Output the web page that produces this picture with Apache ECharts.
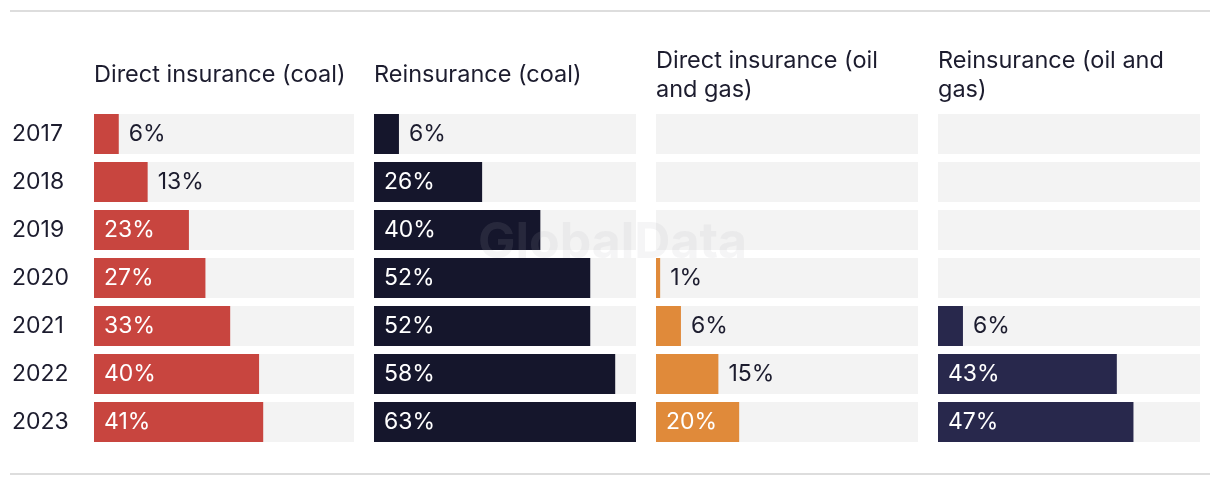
<!DOCTYPE html>
<html>
<head>
<meta charset="utf-8">
<script src="https://cdn.jsdelivr.net/npm/echarts@6/dist/echarts.min.js"></script>
<style>html,body{margin:0;padding:0;background:#fff}#c{width:1220px;height:486px}</style>
</head>
<body>
<div id="c"></div>
<script>
const years = ['2017','2018','2019','2020','2021','2022','2023'];
const panelTitles = ['Direct insurance (coal)', 'Reinsurance (coal)', 'Direct insurance (oil\nand gas)', 'Reinsurance (oil and\ngas)'];
const directCoal = [6, 13, 23, 27, 33, 40, 41];
const reinsCoal = [6, 26, 40, 52, 52, 58, 63];
const directOilGas = [null, null, null, 1, 6, 15, 20];
const reinsOilGas = [null, null, null, null, 6, 43, 47];
const seriesData = [directCoal, reinsCoal, directOilGas, reinsOilGas];
const colors = ['#c8453f', '#15162c', '#e08a3a', '#28284c'];

const FONT = 'Inter, Roboto, sans-serif';
const TEXT = '#1c1c2e';
const lefts = [94, 374, 656, 938];
const widths = [260, 262, 262, 262];
const axisMax = 63;

const chart = echarts.init(document.getElementById('c'));
const grids = [], xAxes = [], yAxes = [], series = [], titles = [];
seriesData.forEach((vals, i) => {
  grids.push({left: lefts[i], width: widths[i], top: 110, height: 336});
  xAxes.push({type: 'value', gridIndex: i, min: 0, max: axisMax, show: false});
  yAxes.push({
    type: 'category', gridIndex: i, data: years, inverse: true,
    axisLine: {show: false}, axisTick: {show: false}, splitLine: {show: false},
    axisLabel: {show: i === 0, align: 'left', margin: 82, color: TEXT, fontSize: 23, fontFamily: FONT, padding: [3, 0, 0, 0]}
  });
  titles.push({
    text: panelTitles[i], left: lefts[i], top: i < 2 ? 60 : 46, padding: 0,
    textStyle: {fontSize: 23.5, fontWeight: 'normal', color: TEXT, fontFamily: FONT, lineHeight: 29}
  });
  series.push({
    type: 'bar', xAxisIndex: i, yAxisIndex: i, barWidth: 40,
    showBackground: true, backgroundStyle: {color: '#f3f3f3'},
    itemStyle: {color: colors[i]},
    data: vals.map(v => {
      if (v === null) return '-';
      const inside = v >= 20;
      return {
        value: v,
        label: {
          show: true, position: inside ? 'insideLeft' : 'right', distance: 10,
          formatter: '{c}%', color: inside ? '#ffffff' : TEXT, fontSize: 23, fontFamily: FONT,
          padding: [3, 0, 0, 0]
        }
      };
    })
  });
});

chart.setOption({
  animation: false,
  title: titles,
  grid: grids,
  xAxis: xAxes,
  yAxis: yAxes,
  series: series,
  graphic: [
    {type: 'rect', shape: {x: 10, y: 10, width: 1200, height: 2}, style: {fill: '#dddddd'}},
    {type: 'rect', shape: {x: 10, y: 473, width: 1200, height: 2}, style: {fill: '#dddddd'}},
    {type: 'text', left: 478, top: 218, z: 100, silent: true,
     style: {text: 'GlobalData', fontSize: 50, fontWeight: 'bold', fontFamily: FONT, fill: 'rgba(170,170,180,0.12)'}}
  ]
});
</script>
</body>
</html>
